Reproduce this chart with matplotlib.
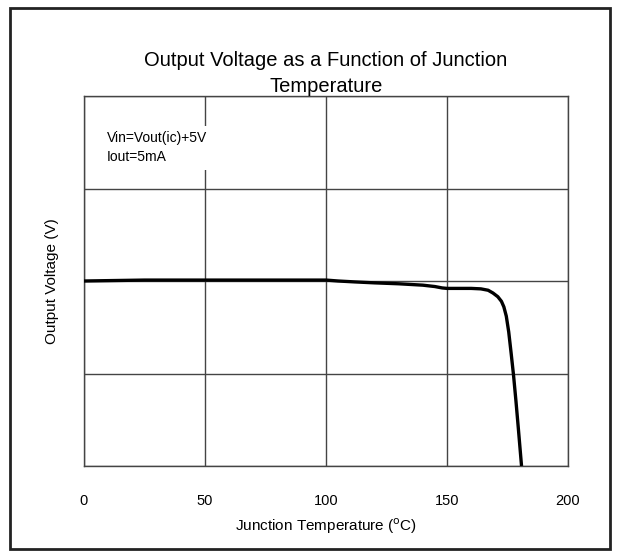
import matplotlib.pyplot as plt
from matplotlib.patches import Rectangle

plt.rcParams['font.family'] = ['Liberation Sans', 'DejaVu Sans']

# curve (temperature in C, output voltage in grid units)
temp = [0, 25, 50, 75, 100, 105, 112, 120, 130, 140, 145, 148, 150, 155, 160, 164,
        167, 169, 171, 172.5, 173.5, 174.5, 175.5, 176.5, 177.5, 178.5, 179.5, 180.8]
vout = [2.0, 2.01, 2.01, 2.01, 2.01, 2.0, 1.99, 1.98, 1.97, 1.955, 1.94, 1.925, 1.92, 1.92, 1.92, 1.915,
        1.9, 1.87, 1.83, 1.78, 1.72, 1.62, 1.45, 1.22, 0.98, 0.7, 0.4, 0.0]

xticks = [0, 50, 100, 150, 200]
yticks = [0, 1, 2, 3, 4]

fig = plt.figure(figsize=(6.17, 5.51), dpi=100)
ax = fig.add_axes([84 / 617, 85 / 551, 484 / 617, 370 / 551])

ax.plot(temp, vout, color='black', linewidth=2.4, solid_capstyle='butt', zorder=3)

ax.set_xlim(0, 200)
ax.set_ylim(0, 4)
ax.set_xticks(xticks)
ax.set_yticks(yticks)
ax.set_yticklabels([])
ax.tick_params(axis='x', length=0, labelsize=10.5, pad=20)
ax.tick_params(axis='y', length=0, pad=0)
ax.grid(True, color='#444444', linewidth=1.0)
for s in ax.spines.values():
    s.set_color('#444444')
    s.set_linewidth(1.0)

ax.set_xlabel('Junction Temperature ($^{\\mathrm{o}}$C)', fontsize=11, labelpad=6)
ax.set_ylabel('Output Voltage (V)', fontsize=11, labelpad=18)
ax.set_title('Output Voltage as a Function of Junction\nTemperature', fontsize=14.5,
             pad=0.5, linespacing=1.45)

ax.text(0.047, 0.905, 'Vin=Vout(ic)+5V\nIout=5mA', transform=ax.transAxes,
        fontsize=10, va='top', ha='left', linespacing=1.45, zorder=4,
        bbox=dict(facecolor='white', edgecolor='none', pad=4))

# outer frame around the whole chart
fig.patches.append(Rectangle((10 / 617, 2 / 551), 600 / 617, 541 / 551,
                             transform=fig.transFigure, fill=False,
                             edgecolor='#222222', linewidth=2.0))

fig.savefig('out.png', dpi=100, facecolor='white')
